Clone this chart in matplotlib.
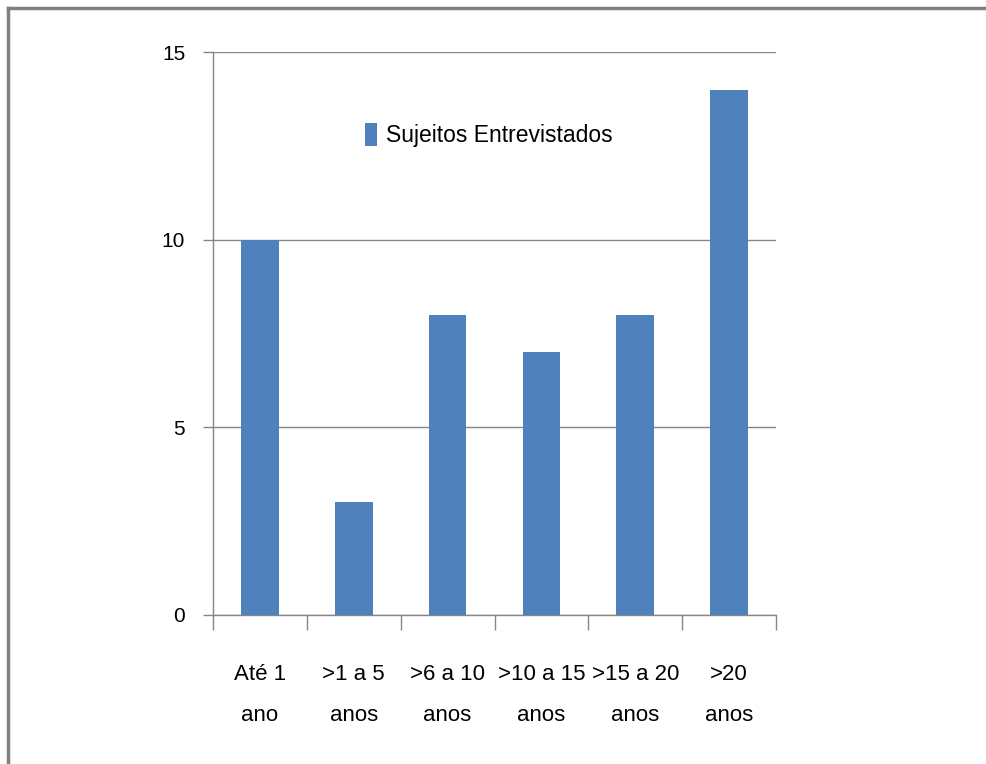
"""
Sujeitos entrevistados por tempo de serviço - gráfico de barras simples.
"""
import matplotlib
matplotlib.use("Agg")
import matplotlib.pyplot as plt
from matplotlib.lines import Line2D
import numpy as np

plt.rcParams.update({
    "font.family": ["Liberation Sans", "DejaVu Sans"],
    "figure.dpi": 100,
})

categorias = ["Até 1\nano", ">1 a 5\nanos", ">6 a 10\nanos",
              ">10 a 15\nanos", ">15 a 20\nanos", ">20\nanos"]
sujeitos = [10, 3, 8, 7, 8, 14]
y_ticks = [0, 5, 10, 15]

COR_BARRA = "#4F81BD"
COR_LINHA = "#868686"

fig = plt.figure(figsize=(9.86, 7.64))
ax = fig.add_axes([213 / 986, 149 / 764, 563 / 986, 563 / 764])

x = np.arange(len(categorias))
ax.bar(x, sujeitos, width=0.4, color=COR_BARRA, label="Sujeitos Entrevistados", zorder=3)

ax.set_xlim(-0.5, len(categorias) - 0.5)
ax.set_ylim(0, 15)
ax.set_yticks(y_ticks)
ax.yaxis.grid(True, color=COR_LINHA, lw=1.0, zorder=0)

# rótulos no centro, marcas nas divisões entre categorias
ax.set_xticks(x)
ax.set_xticklabels(categorias, fontsize=16, linespacing=2.3)
ax.set_xticks(np.arange(len(categorias) + 1) - 0.5, minor=True)
ax.tick_params(axis="x", which="major", length=0, pad=35)
ax.tick_params(axis="x", which="minor", length=11, width=1.0, color=COR_LINHA)
ax.tick_params(axis="y", length=7, width=1.0, color=COR_LINHA, labelsize=15, pad=13)

for s in ("top", "right"):
    ax.spines[s].set_visible(False)
for s in ("left", "bottom"):
    ax.spines[s].set_color(COR_LINHA)
    ax.spines[s].set_linewidth(1.0)

ax.legend(loc="center", bbox_to_anchor=(0.49, 0.853), frameon=False,
          fontsize=16.5, handlelength=0.55, handleheight=1.2, handletextpad=0.4)

# moldura cinza (só topo e esquerda, como no original recortado)
fig.add_artist(Line2D([8 / 986, 8 / 986], [0, 1 - 8 / 764], transform=fig.transFigure,
                      color="#808080", lw=2.5))
fig.add_artist(Line2D([8 / 986, 1], [1 - 8 / 764, 1 - 8 / 764], transform=fig.transFigure,
                      color="#808080", lw=2.5))

fig.savefig("out.png", dpi=100)
